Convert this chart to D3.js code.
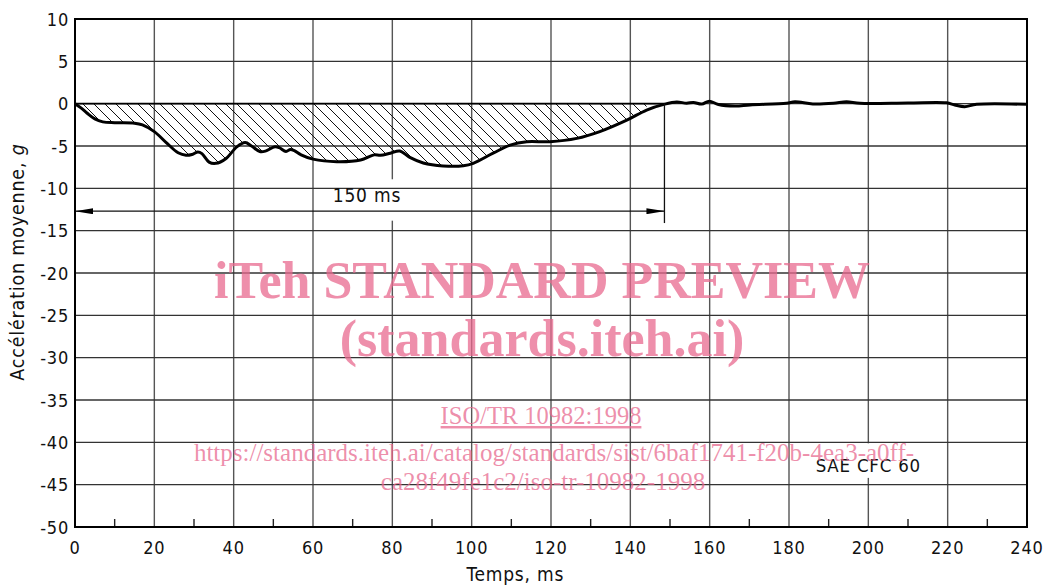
<!DOCTYPE html>
<html lang="fr">
<head>
<meta charset="UTF-8">
<title>Accélération moyenne</title>
<script src="https://d3js.org/d3.v7.min.js"></script>
<style>
  body { margin: 0; background: #fff; }
  svg { display: block; }
  .lbl { font-family: "DejaVu Sans Condensed", "DejaVu Sans", sans-serif; font-size: 18px; letter-spacing: 0.8px; fill: #111; }
  .wm { font-family: "Liberation Serif", serif; fill: rgb(232,106,143); fill-opacity: 0.75; }
</style>
</head>
<body>
<svg id="chart" width="1046" height="585"></svg>
<script>
// curve
const timeMs = [0, 1.5, 3, 5, 7, 10, 15, 17, 20, 23, 26, 28, 29.5, 31, 32, 33.8, 35.5, 38, 40.8, 42.9,
  44.5, 46.6, 48, 50.4, 51.5, 53.2, 54.3, 55.3, 57, 60, 66, 72, 75.4, 77, 79.5, 81.9, 84.4, 87.8,
  92.8, 97.9, 100.4, 105.4, 109.7, 113.9, 119.7, 126.5, 132.3, 139.1, 144.1, 148.7, 151.7, 154.2,
  155.9, 158, 159.9, 162.2, 166.4, 170.2, 179.4, 181.5, 186, 191.2, 194.5, 197.9, 210, 219.7,
  221.8, 224.3, 227.3, 240];
const accelG = [0, -0.5, -1.1, -1.8, -2.15, -2.25, -2.3, -2.5, -3.3, -4.6, -5.8, -6.1, -6.0, -5.7, -5.9, -6.9, -7.05, -6.5, -5.1, -4.6,
  -5.0, -5.65, -5.6, -5.1, -5.2, -5.65, -5.4, -5.55, -6.05, -6.55, -6.85, -6.65, -6.05, -6.1, -5.85, -5.6, -6.35, -7.0,
  -7.35, -7.33, -7.05, -5.85, -4.9, -4.5, -4.5, -4.1, -3.3, -1.95, -0.75, -0.05, 0.2, 0.05,
  0.15, -0.05, 0.3, -0.1, -0.28, -0.15, 0.05, 0.22, -0.03, 0.05, 0.22, 0.05, 0.08, 0.1,
  -0.15, -0.35, -0.08, -0.08];

const xTicks = [0, 20, 40, 60, 80, 100, 120, 140, 160, 180, 200, 220, 240];
const xMinorTicks = [10, 30, 50, 70, 90, 110, 130, 150, 170, 190, 210, 230];
const yTicks = [10, 5, 0, -5, -10, -15, -20, -25, -30, -35, -40, -45, -50];

const pulseEnd = 148.6;     // end of the 150 ms dimension
const dimLevel = -12.7;     // level of the dimension arrow

const svg = d3.select('#chart');
const m = { left: 75, top: 19, right: 19, bottom: 58 };
const W = 1046 - m.left - m.right;
const H = 585 - m.top - m.bottom;

const x = d3.scaleLinear().domain([0, 240]).range([0, W]);
const y = d3.scaleLinear().domain([-50, 10]).range([H, 0]);

const defs = svg.append('defs');
defs.append('pattern')
  .attr('id', 'hatch').attr('patternUnits', 'userSpaceOnUse')
  .attr('width', 11).attr('height', 11)
  .append('path')
  .attr('d', 'M0,0L11,11M-5.5,5.5L5.5,16.5M5.5,-5.5L16.5,5.5')
  .attr('stroke', '#111').attr('stroke-width', 1);
defs.append('marker')
  .attr('id', 'arr').attr('viewBox', '0 0 18 6').attr('refX', 18).attr('refY', 3)
  .attr('markerWidth', 18).attr('markerHeight', 6).attr('markerUnits', 'userSpaceOnUse')
  .attr('orient', 'auto-start-reverse')
  .append('path').attr('d', 'M0,0L18,3L0,6Z').attr('fill', '#000');

const g = svg.append('g').attr('transform', `translate(${m.left},${m.top})`);

// vertical grid
g.append('g').selectAll('line').data(xTicks.slice(1, -1)).join('line')
  .attr('x1', d => x(d)).attr('x2', d => x(d)).attr('y1', 0).attr('y2', H)
  .attr('stroke', '#555').attr('stroke-width', 1.4);

// gaps behind the labels
g.append('rect').attr('x', x(80) - 3).attr('width', 6)
  .attr('y', y(-8.93)).attr('height', y(-13.82) - y(-8.93)).attr('fill', '#fff');
g.append('rect').attr('x', x(200) - 3).attr('width', 6)
  .attr('y', y(-40) + 1).attr('height', y(-44.2) - y(-40) - 1).attr('fill', '#fff');

// horizontal grid
g.append('g').selectAll('line').data(yTicks.slice(1, -1)).join('line')
  .attr('x1', 0).attr('x2', W).attr('y1', d => y(d)).attr('y2', d => y(d))
  .attr('stroke', '#333').attr('stroke-width', 1.4);

// minor ticks along the bottom
g.append('g').selectAll('line').data(xMinorTicks).join('line')
  .attr('x1', d => x(d)).attr('x2', d => x(d)).attr('y1', H).attr('y2', H - 8)
  .attr('stroke', '#222').attr('stroke-width', 1.4);

// hatched area
const pts = timeMs.map((t, i) => ({ t, a: accelG[i] }));
const curve = d3.curveCatmullRom.alpha(0.5);
g.append('path')
  .datum(pts.filter(p => p.t <= pulseEnd))
  .attr('fill', 'url(#hatch)')
  .attr('d', d3.area().x(d => x(d.t)).y0(y(0)).y1(d => y(d.a)).curve(curve));
g.append('line').attr('x1', x(0)).attr('x2', x(pulseEnd)).attr('y1', y(0)).attr('y2', y(0))
  .attr('stroke', '#000').attr('stroke-width', 1.6);

// curve
g.append('path').datum(pts)
  .attr('fill', 'none').attr('stroke', '#000').attr('stroke-width', 3)
  .attr('stroke-linejoin', 'round')
  .attr('d', d3.line().x(d => x(d.t)).y(d => y(d.a)).curve(curve));

// 150 ms dimension
g.append('line').attr('x1', x(pulseEnd)).attr('x2', x(pulseEnd))
  .attr('y1', y(0)).attr('y2', y(-14.1)).attr('stroke', '#111').attr('stroke-width', 1.3);
g.append('line').attr('x1', x(0)).attr('x2', x(pulseEnd))
  .attr('y1', y(dimLevel)).attr('y2', y(dimLevel))
  .attr('stroke', '#111').attr('stroke-width', 1.3)
  .attr('marker-start', 'url(#arr)').attr('marker-end', 'url(#arr)');
g.append('text').attr('class', 'lbl').attr('x', x(73.6)).attr('y', y(-11.65))
  .attr('text-anchor', 'middle').style('font-size', '19px').text('150 ms');
g.append('text').attr('class', 'lbl').attr('x', x(200)).attr('y', y(-43.5))
  .attr('text-anchor', 'middle').style('font-size', '18.5px').text('SAE CFC 60');

// frame
g.append('rect').attr('width', W).attr('height', H)
  .attr('fill', 'none').attr('stroke', '#000').attr('stroke-width', 2);

// tick labels
g.append('g').selectAll('text').data(xTicks).join('text')
  .attr('class', 'lbl').attr('x', d => x(d)).attr('y', H + 27)
  .attr('text-anchor', 'middle').text(d => d);
g.append('g').selectAll('text').data(yTicks).join('text')
  .attr('class', 'lbl').attr('x', -6).attr('y', d => y(d) + 6.5)
  .attr('text-anchor', 'end').text(d => d);

// axis titles
g.append('text').attr('class', 'lbl').attr('x', x(111)).attr('y', H + 54)
  .attr('text-anchor', 'middle').style('font-size', '19px').text('Temps, ms');
const yt = g.append('text').attr('class', 'lbl').style('font-size', '19.5px')
  .attr('transform', `translate(${-51},${y(-18.7)}) rotate(-90)`)
  .attr('text-anchor', 'middle');
yt.append('tspan').text('Accélération moyenne, ');
yt.append('tspan').style('font-style', 'italic').text('g');

// watermark
const wm = svg.append('g').attr('text-anchor', 'middle');
wm.append('text').attr('class', 'wm').attr('x', 542).attr('y', 298)
  .style('font-size', '52px').style('font-weight', 'bold').text('iTeh STANDARD PREVIEW');
wm.append('text').attr('class', 'wm').attr('x', 542).attr('y', 356)
  .style('font-size', '52px').style('font-weight', 'bold').text('(standards.iteh.ai)');
wm.append('text').attr('class', 'wm').attr('x', 541).attr('y', 424)
  .style('font-size', '24.5px').style('text-decoration', 'underline').text('ISO/TR 10982:1998');
wm.append('text').attr('class', 'wm').attr('x', 554).attr('y', 461)
  .style('font-size', '25px').text('https://standards.iteh.ai/catalog/standards/sist/6baf1741-f20b-4ea3-a0ff-');
wm.append('text').attr('class', 'wm').attr('x', 543).attr('y', 490)
  .style('font-size', '25px').text('ca28f49fe1c2/iso-tr-10982-1998');
</script>
</body>
</html>
